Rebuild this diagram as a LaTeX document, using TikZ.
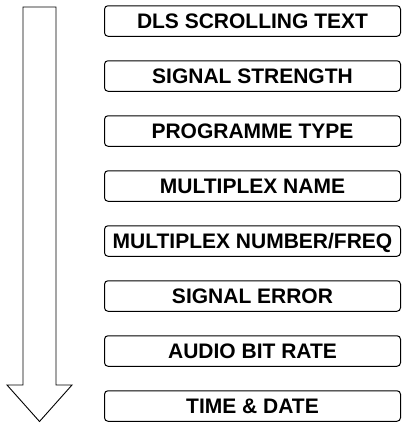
\documentclass[tikz,border=0pt]{standalone}
\usepackage{fontspec}
\setmainfont{Liberation Sans}
\usetikzlibrary{positioning}

\tikzset{menubox/.style={draw, line width=1pt, rounded corners=3.5pt, minimum width=296pt, minimum height=30.5pt, inner sep=0pt, text height=15pt, text depth=0pt, font=\bfseries\fontsize{21}{25}\selectfont}}

\begin{document}
\begin{tikzpicture}[x=1pt,y=-1pt]
  \useasboundingbox (0,0) rectangle (402,423);

  % scroll direction
  \draw [line width=0.9pt, line join=miter] (23,7) -- (56,7) -- (56,385) -- (72,385) -- (39.5,421.5) -- (7,385) -- (23,385) -- cycle;

      \node[menubox] (dls) at (252.5,21) {DLS SCROLLING TEXT};
      \node[menubox] (strength) at (252.5,76) {SIGNAL STRENGTH};
      \node[menubox] (ptype) at (252.5,131) {PROGRAMME TYPE};
      \node[menubox] (muxname) at (252.5,186) {MULTIPLEX NAME};
      \node[menubox] (muxnum) at (252.5,241) {MULTIPLEX NUMBER/FREQ};
      \node[menubox] (error) at (252.5,296) {SIGNAL ERROR};
      \node[menubox] (bitrate) at (252.5,351) {AUDIO BIT RATE};
      \node[menubox] (timedate) at (252.5,406) {TIME \& DATE};

\end{tikzpicture}
\end{document}
